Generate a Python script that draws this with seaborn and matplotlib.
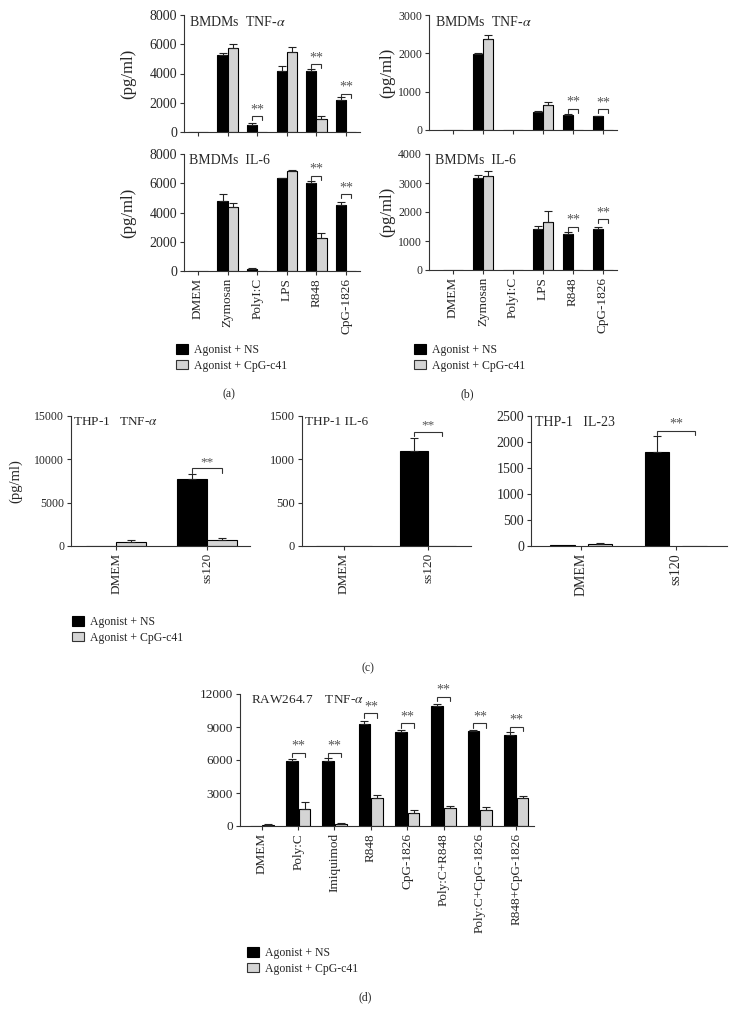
import numpy as np
import pandas as pd
import matplotlib
matplotlib.use("Agg")
import matplotlib.pyplot as plt
import seaborn as sns
from matplotlib.patches import Patch

sns.set_theme(style="ticks")
plt.rcParams['font.family'] = ['Liberation Serif', 'DejaVu Serif']
plt.rcParams['mathtext.fontset'] = 'stix'

groups = ["Agonist + NS", "Agonist + CpG-c41"]
colors = ["#000000", "#d4d4d4"]

# ---------------- (a) / (b) BMDMs ----------------
bmdm_cats = ["DMEM", "Zymosan", "PolyI:C", "LPS", "R848", "CpG-1826"]

a_tnf_ns = [0, 5240, 500, 4180, 4170, 2200]
a_tnf_ns_sem = [0, 160, 100, 300, 150, 160]
a_tnf_c41 = [0, 5740, 0, 5440, 880, 0]
a_tnf_c41_sem = [0, 300, 0, 350, 200, 0]
a_tnf_sig_cat = [2, 4, 5]
a_tnf_sig_h = [1070, 4640, 2600]

a_il6_ns = [0, 4780, 160, 6350, 6000, 4500]
a_il6_ns_sem = [0, 480, 60, 40, 160, 240]
a_il6_c41 = [0, 4400, 0, 6820, 2250, 0]
a_il6_c41_sem = [0, 270, 0, 110, 320, 0]
a_il6_sig_cat = [4, 5]
a_il6_sig_h = [6500, 5240]

b_tnf_ns = [0, 1970, 0, 480, 400, 360]
b_tnf_ns_sem = [0, 30, 0, 15, 15, 15]
b_tnf_c41 = [0, 2380, 0, 660, 8, 0]
b_tnf_c41_sem = [0, 100, 0, 70, 0, 0]
b_tnf_sig_cat = [4, 5]
b_tnf_sig_h = [550, 540]

b_il6_ns = [0, 3180, 0, 1430, 1250, 1400]
b_il6_ns_sem = [0, 100, 0, 100, 50, 100]
b_il6_c41 = [0, 3240, 0, 1660, 10, 0]
b_il6_c41_sem = [0, 180, 0, 380, 0, 0]
b_il6_sig_cat = [4, 5]
b_il6_sig_h = [1500, 1750]

# ---------------- (c) THP-1 ----------------
thp_cats = ["DMEM", "ss120"]
c_tnf_ns = [0, 7710]
c_tnf_ns_sem = [0, 580]
c_tnf_c41 = [460, 655]
c_tnf_c41_sem = [190, 310]
c_tnf_sig_cat = [1]
c_tnf_sig_h = [8950]

c_il6_ns = [0, 1100]
c_il6_ns_sem = [0, 142]
c_il6_c41 = [0, 0]
c_il6_c41_sem = [0, 0]
c_il6_sig_cat = [1]
c_il6_sig_h = [1320]

c_il23_ns = [13, 1800]
c_il23_ns_sem = [0, 320]
c_il23_c41 = [40, 0]
c_il23_c41_sem = [18, 0]
c_il23_sig_cat = [1]
c_il23_sig_h = [2215]

# ---------------- (d) RAW264.7 ----------------
raw_cats = ["DMEM", "Poly:C", "Imiquimod", "R848", "CpG-1826",
            "Poly:C+R848", "Poly:C+CpG-1826", "R848+CpG-1826"]
d_ns = [30, 5900, 5900, 9250, 8550, 10950, 8600, 8300]
d_ns_sem = [0, 200, 320, 330, 150, 180, 150, 220]
d_c41 = [110, 1550, 150, 2580, 1150, 1600, 1450, 2580]
d_c41_sem = [30, 650, 90, 220, 350, 200, 250, 150]
d_sig_cat = [1, 2, 3, 4, 5, 6, 7]
d_sig_h = [6650, 6650, 10230, 9320, 11750, 9320, 9020]

W, H = 736, 1023
fig = plt.figure(figsize=(W / 100, H / 100), dpi=100)


def fax(x0, y0, x1, y1):
    return fig.add_axes([x0 / W, 1 - y1 / H, (x1 - x0) / W, (y1 - y0) / H])


def panel(ax, cats, ns, ns_sem, c41, c41_sem, sig_cat, sig_h, ymax, ystep,
          title, width, gap, xlim, labels=True, ylabel=None, ylab_x=-0.3,
          title_x=0.03, tick_fs=8, cat_fs=8, title_fs=8.5, ylab_fs=9.5,
          star_fs=9):
    n = len(cats)
    df = pd.DataFrame({"cat": cats * 2, "val": list(ns) + list(c41),
                       "grp": [groups[0]] * n + [groups[1]] * n})
    sns.barplot(data=df, x="cat", y="val", hue="grp", order=cats,
                hue_order=groups, palette=colors, saturation=1,
                width=width, gap=gap, edgecolor="black", linewidth=0.8,
                errorbar=None, legend=False, ax=ax)
    centers = []
    for cont, vals, sems in zip(ax.containers, [ns, c41], [ns_sem, c41_sem]):
        xs = np.array([p.get_x() + p.get_width() / 2 for p in cont])
        centers.append(xs)
        vals = np.array(vals, float)
        sems = np.array(sems, float)
        m = sems > 0
        if m.any():
            ax.errorbar(xs[m], vals[m], yerr=[np.zeros(m.sum()), sems[m]],
                        fmt='none', ecolor='#222222', elinewidth=0.8,
                        capsize=2.8, capthick=0.8, zorder=3)
    leg = 0.035 * ymax
    for k, h in zip(sig_cat, sig_h):
        x0, x1 = centers[0][k], centers[1][k]
        ax.plot([x0, x0, x1, x1], [h - leg, h, h, h - leg], color='#333333',
                lw=0.8, solid_joinstyle='miter')
        ax.text((x0 + x1) / 2, h, "**", ha='center',
                va='bottom', fontsize=star_fs, color='#555555')
    ax.set_ylim(0, ymax)
    ax.set_yticks(np.arange(0, ymax + 1, ystep))
    ax.set_xlim(*xlim)
    ax.set_xlabel("")
    ax.set_ylabel("")
    if ylabel:
        ax.set_ylabel(ylabel, fontsize=ylab_fs)
        ax.yaxis.set_label_coords(ylab_x, 0.5)
    ax.set_xticks(range(n))
    if labels:
        ax.set_xticklabels(cats, rotation=90, fontsize=cat_fs)
    else:
        ax.set_xticklabels([])
    sns.despine(ax=ax)
    for s in ["left", "bottom"]:
        ax.spines[s].set_color('#333333')
        ax.spines[s].set_linewidth(0.8)
    ax.tick_params(axis='both', direction='out', length=3, width=0.8,
                   color='#333333', pad=2)
    ax.tick_params(axis='y', labelsize=tick_fs)
    ax.text(title_x, 1.0, title, transform=ax.transAxes, ha='left',
            va='top', fontsize=title_fs)


def legend_at(x, y):
    handles = [Patch(facecolor=colors[0], edgecolor='black', lw=0.8),
               Patch(facecolor=colors[1], edgecolor='#333333', lw=0.8)]
    fig.legend(handles=handles, labels=groups, loc='upper left',
               bbox_to_anchor=(x / W, 1 - y / H), frameon=False,
               fontsize=8.5, handlelength=1.0, handleheight=0.85,
               handletextpad=0.5, labelspacing=0.3, borderpad=0,
               borderaxespad=0)


# (a)
fa = dict(tick_fs=10, cat_fs=9.5, title_fs=10, ylab_fs=12, star_fs=10)
ax = fax(184, 15, 360, 132)
panel(ax, bmdm_cats, a_tnf_ns, a_tnf_ns_sem, a_tnf_c41, a_tnf_c41_sem,
      a_tnf_sig_cat, a_tnf_sig_h, 8000, 2000, r"BMDMs  TNF-$\alpha$",
      0.68, 0, (-0.47, 5.47), labels=False, ylabel="(pg/ml)", ylab_x=-0.27,
      **fa)
ax = fax(184, 154, 360, 271)
panel(ax, bmdm_cats, a_il6_ns, a_il6_ns_sem, a_il6_c41, a_il6_c41_sem,
      a_il6_sig_cat, a_il6_sig_h, 8000, 2000, "BMDMs  IL-6",
      0.68, 0, (-0.47, 5.47), labels=True, ylabel="(pg/ml)", ylab_x=-0.27,
      **fa)

# (b)
fb = dict(tick_fs=8.5, cat_fs=9.5, title_fs=10, ylab_fs=12, star_fs=10)
ax = fax(429, 15, 617, 130)
panel(ax, bmdm_cats, b_tnf_ns, b_tnf_ns_sem, b_tnf_c41, b_tnf_c41_sem,
      b_tnf_sig_cat, b_tnf_sig_h, 3000, 1000, r"BMDMs  TNF-$\alpha$",
      0.66, 0, (-0.8, 5.47), labels=False, ylabel="(pg/ml)", ylab_x=-0.18,
      **fb)
ax = fax(429, 154, 617, 270)
panel(ax, bmdm_cats, b_il6_ns, b_il6_ns_sem, b_il6_c41, b_il6_c41_sem,
      b_il6_sig_cat, b_il6_sig_h, 4000, 1000, "BMDMs  IL-6",
      0.66, 0, (-0.8, 5.47), labels=True, ylabel="(pg/ml)", ylab_x=-0.18,
      **fb)

legend_at(176, 344)
legend_at(414, 344)
fig.text(229 / W, 1 - 394 / H, "(a)", ha='center', va='center', fontsize=8.5)
fig.text(467 / W, 1 - 394 / H, "(b)", ha='center', va='center', fontsize=8.5)

# (c)
ax = fax(71, 416, 250, 546)
panel(ax, thp_cats, c_tnf_ns, c_tnf_ns_sem, c_tnf_c41, c_tnf_c41_sem,
      c_tnf_sig_cat, c_tnf_sig_h, 15000, 5000, r"THP-1   TNF-$\alpha$",
      0.66, 0, (-0.5, 1.47), labels=True, ylabel="(pg/ml)", ylab_x=-0.27,
      title_x=0.01, tick_fs=8.5, cat_fs=9.5, title_fs=9.5, ylab_fs=10.5,
      star_fs=9.5)
ax = fax(302, 416, 471, 546)
panel(ax, thp_cats, c_il6_ns, c_il6_ns_sem, c_il6_c41, c_il6_c41_sem,
      c_il6_sig_cat, c_il6_sig_h, 1500, 500, "THP-1 IL-6",
      0.66, 0, (-0.5, 1.51), labels=True, title_x=0.02, tick_fs=9,
      cat_fs=9.5, title_fs=9.5, star_fs=9.5)
ax = fax(531, 416, 727, 546)
panel(ax, thp_cats, c_il23_ns, c_il23_ns_sem, c_il23_c41, c_il23_c41_sem,
      c_il23_sig_cat, c_il23_sig_h, 2500, 500, "THP-1   IL-23",
      0.8, 0.35, (-0.53, 1.54), labels=True, title_x=0.02, tick_fs=10,
      cat_fs=10, title_fs=10, star_fs=10)

legend_at(72, 616)
fig.text(368 / W, 1 - 668 / H, "(c)", ha='center', va='center', fontsize=8.5)

# (d)
ax = fax(240, 694, 534, 826)
panel(ax, raw_cats, d_ns, d_ns_sem, d_c41, d_c41_sem, d_sig_cat, d_sig_h,
      12000, 3000, r"RAW264.7    TNF-$\alpha$", 0.7, 0.08, (-0.6, 7.49),
      labels=True, title_x=0.037, tick_fs=9.5, cat_fs=9.5, title_fs=9.5,
      star_fs=10)

legend_at(247, 947)
fig.text(365 / W, 1 - 997 / H, "(d)", ha='center', va='center', fontsize=8.5)

fig.savefig("out.png", dpi=100, facecolor="white")
